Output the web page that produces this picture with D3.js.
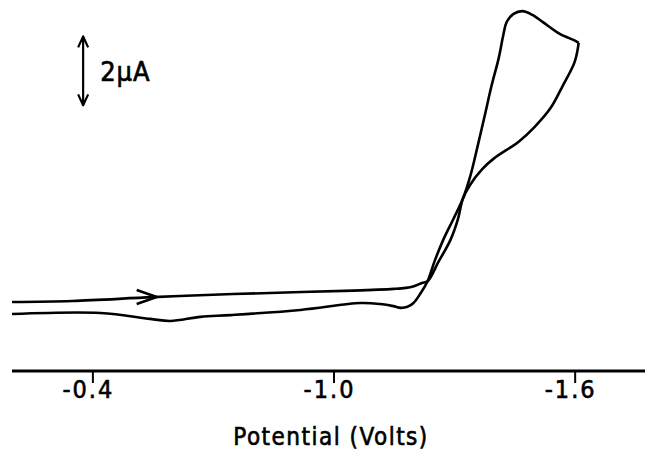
<!DOCTYPE html>
<meta charset="utf-8">
<style>
body { margin: 0; background: #fff; }
.trace { fill: none; stroke: #000; stroke-width: 2.6px; stroke-linejoin: round; }
.axis path, .axis line { stroke: #000; }
.lbl { font-family: "DejaVu Sans Condensed", "DejaVu Sans", sans-serif; fill: #000; stroke: #000; stroke-width: 0.6px; }
</style>
<body>
<script src="https://d3js.org/d3.v7.min.js"></script>
<script>

// forward sweep (toward -1.6 V), potential in V, current in uA
var fwdV = [-0.20, -0.35, -0.55, -0.75, -0.92, -1.05, -1.15, -1.18, -1.20, -1.22, -1.234,
            -1.261, -1.291, -1.309, -1.322, -1.34, -1.37, -1.40, -1.46, -1.50, -1.54,
            -1.57, -1.60, -1.61];
var fwdI = [2.00, 2.03, 2.14, 2.23, 2.29, 2.33, 2.38, 2.41, 2.46, 2.55, 2.60,
            3.16, 3.80, 4.38, 5.00, 5.40, 5.85, 6.17, 6.64, 7.07, 7.62,
            8.26, 8.96, 9.51];

// return sweep (back from -1.61 V)
var revV = [-1.61, -1.602, -1.563, -1.520, -1.495, -1.470, -1.448, -1.431, -1.423, -1.411,
            -1.393, -1.376, -1.358, -1.341, -1.322, -1.298, -1.273, -1.252, -1.234, -1.217, -1.199,
            -1.184, -1.167, -1.149, -1.117, -1.067, -0.918, -0.744, -0.669, -0.594, -0.544,
            -0.420, -0.20];
var revI = [9.51, 9.57, 9.77, 10.12, 10.32, 10.43, 10.35, 10.12, 9.77, 9.07,
            8.26, 7.39, 6.49, 5.68, 5.00, 4.40, 3.80, 3.20, 2.60, 2.26, 1.97,
            1.86, 1.83, 1.88, 1.94, 1.97, 1.77, 1.62, 1.57, 1.45, 1.51,
            1.68, 1.65];

var tickVals = [-0.4, -1.0, -1.6];
var tickLabels = ["-0.4", "-1.0", "-1.6"];

// scale bar: 2 uA
var barV = -0.377, barFrom = 7.7, barTo = 9.7, barText = "2\u00b5A";
var arrowV = -0.56;

var width = 650, height = 453;

var x = d3.scaleLinear().domain([-0.2, -1.775]).range([12, 645]);
var y = d3.scaleLinear().domain([0, 10]).range([371, 26]);

var svg = d3.select("body").append("svg")
  .attr("width", width)
  .attr("height", height);

var line = d3.line()
  .x(function(d) { return x(d[0]); })
  .y(function(d) { return y(d[1]); })
  .curve(d3.curveCatmullRom.alpha(0.5));

var fwd = d3.zip(fwdV, fwdI);
var rev = d3.zip(revV, revI);

svg.append("path").attr("class", "trace").attr("d", line(fwd));
svg.append("path").attr("class", "trace").attr("d", line(rev));

// direction arrow on forward trace
var ax = x(arrowV), ay = y(d3.scaleLinear().domain(fwdV.slice(1, 3)).range(fwdI.slice(1, 3))(arrowV));
svg.append("path").attr("class", "trace")
  .attr("d", "M" + (ax - 20) + "," + (ay - 7) + "L" + ax + "," + ay + "L" + (ax - 20) + "," + (ay + 7));

// x axis
var xAxis = d3.axisBottom(x)
  .tickValues(tickVals)
  .tickSize(12)
  .tickFormat("");

var ga = svg.append("g")
  .attr("class", "axis")
  .attr("transform", "translate(0," + y(0) + ")")
  .call(xAxis);
ga.select(".domain").attr("d", "M" + x.range()[0] + ",0H" + x.range()[1]).attr("stroke-width", 3);
ga.selectAll(".tick line").attr("stroke-width", 2);

svg.selectAll(".tlabel")
  .data(tickVals)
  .enter().append("text")
    .attr("class", "lbl tlabel")
    .attr("x", function(d) { return x(d) - 4; })
    .attr("y", y(0) + 27)
    .attr("text-anchor", "middle")
    .style("font-size", "25px")
    .style("letter-spacing", "2px")
    .text(function(d, i) { return tickLabels[i]; });

svg.append("text")
  .attr("class", "lbl")
  .attr("x", 331)
  .attr("y", 445)
  .attr("text-anchor", "middle")
  .style("font-size", "24px")
  .style("letter-spacing", "1.5px")
  .text("Potential (Volts)");

// current scale bar
var bx = x(barV), b0 = y(barFrom), b1 = y(barTo);
svg.append("path").attr("class", "trace").style("stroke-width", "2.2px")
  .attr("d", "M" + bx + "," + b1 + "V" + b0
    + "M" + (bx - 5) + "," + (b1 + 11) + "L" + bx + "," + b1 + "L" + (bx + 5) + "," + (b1 + 11)
    + "M" + (bx - 5) + "," + (b0 - 11) + "L" + bx + "," + b0 + "L" + (bx + 5) + "," + (b0 - 11));
svg.append("text")
  .attr("class", "lbl")
  .attr("x", bx + 17)
  .attr("y", (b0 + b1) / 2 + 10)
  .style("font-size", "27px")
  .style("letter-spacing", "1px")
  .text(barText);

</script>
</body>
